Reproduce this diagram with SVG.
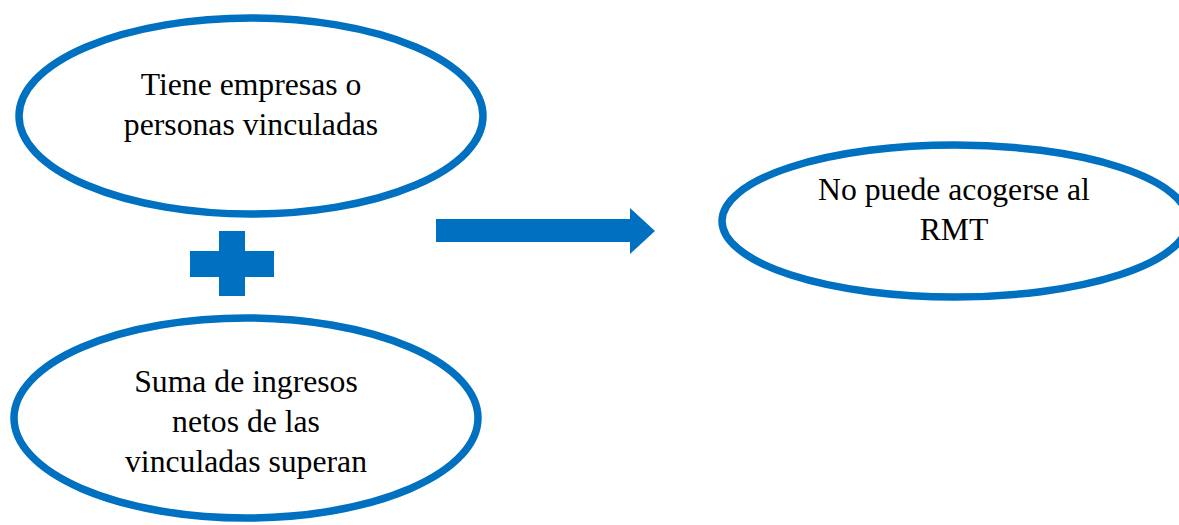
<svg xmlns="http://www.w3.org/2000/svg" width="1179" height="525" viewBox="0 0 1179 525">
<style>
.node ellipse{fill:#fff;stroke:#0070C0;stroke-width:7.5}
.lbl{font-family:"Liberation Serif","Times New Roman",serif;font-size:31.7px;fill:#000;text-anchor:middle}
.shape{fill:#0070C0}
</style>
<rect width="1179" height="525" fill="#fff"/>
<g id="n1" class="node">
<ellipse cx="251" cy="116" rx="232" ry="98"/>
<text class="lbl" x="251" y="95">Tiene empresas o</text>
<text class="lbl" x="251" y="135">personas vinculadas</text>
</g>
<g id="plus">
<rect class="shape" x="190" y="251" width="84" height="26"/>
<rect class="shape" x="219" y="231" width="26" height="65"/>
</g>
<g id="n3" class="node">
<ellipse cx="246" cy="418" rx="232" ry="100"/>
<text class="lbl" x="246" y="392">Suma de ingresos</text>
<text class="lbl" x="246" y="432">netos de las</text>
<text class="lbl" x="246" y="472">vinculadas superan</text>
</g>
<g id="n2" class="node">
<ellipse cx="955" cy="221" rx="233" ry="76"/>
<text class="lbl" x="954" y="200">No puede acogerse al</text>
<text class="lbl" x="954" y="240">RMT</text>
</g>
<g id="connectors">
<polygon class="shape" points="436,219 630,219 630,208 655,231 630,254 630,242 436,242"/>
</g>
</svg>
